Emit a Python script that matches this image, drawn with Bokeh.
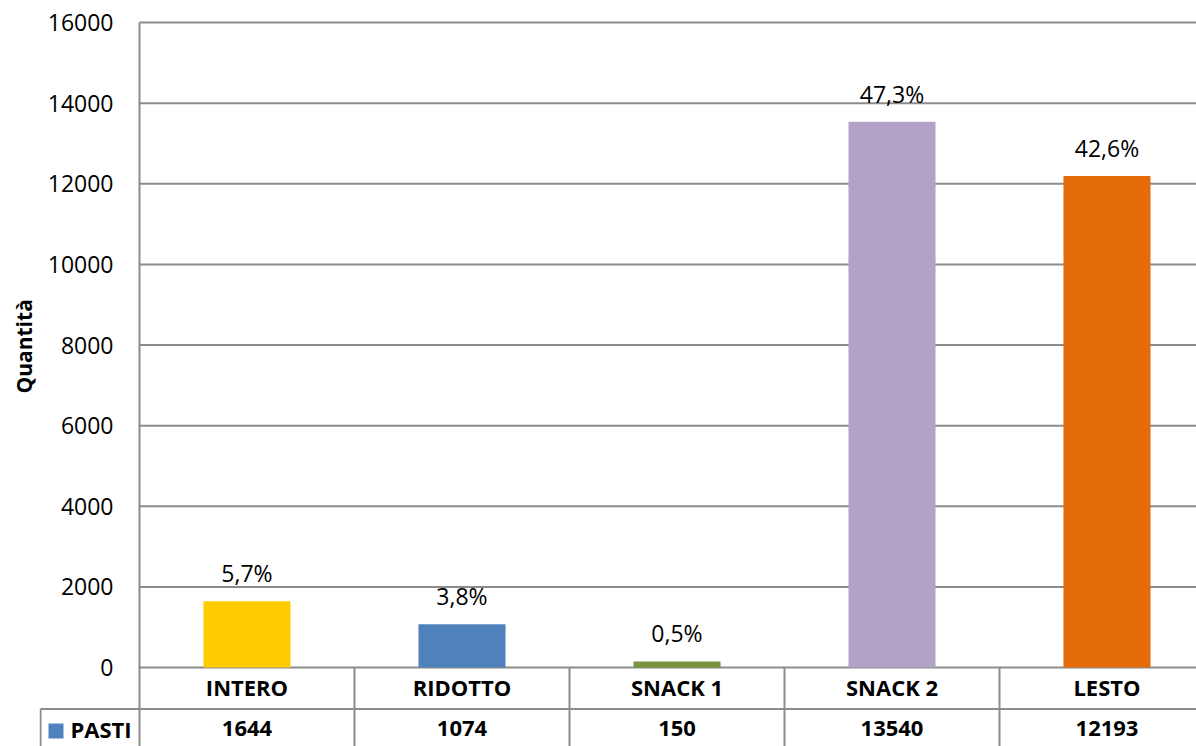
import math
from bokeh.plotting import figure
from bokeh.models import Range1d, FixedTicker, LabelSet, ColumnDataSource, Title
from bokeh.core.properties import value
from bokeh.embed import file_html
from bokeh.resources import INLINE

categories = ["INTERO", "RIDOTTO", "SNACK 1", "SNACK 2", "LESTO"]
pasti = [1644, 1074, 150, 13540, 12193]
percent_labels = ["5,7%", "3,8%", "0,5%", "47,3%", "42,6%"]
bar_colors = ["#FFCC00", "#4F81BD", "#77933C", "#B3A2C7", "#E46C0A"]
y_ticks = [0, 2000, 4000, 6000, 8000, 10000, 12000, 14000, 16000]
series_name = "PASTI"
series_color = "#4F81BD"
y_title = "Quantità"

FONT = "Open Sans"
GRID = "#8c8c8c"

# layout (pixels)
COL_W = 215          # width of one category column
PLOT_H = 645         # pixels for 0..16000
PLOT_TOP = 22        # pixel row of the top gridline
FIG_W, FIG_H = 1196, 746
LEFT = 39
FRAME_W = FIG_W - LEFT
CELL_W = 100         # width of the legend cell of the data table
TITLE_BOTTOM = 393   # pixel row where the value-axis title starts
UX = 1 / COL_W
UY = 16000 / PLOT_H

y_min, y_max = y_ticks[0], y_ticks[-1]
x_start = -CELL_W * UX
x_end = (FRAME_W - CELL_W) * UX
y_bottom = -(FIG_H - PLOT_TOP - PLOT_H) * UY
y_top = y_max + PLOT_TOP * UY

x_pos = [i + 0.5 for i in range(len(categories))]
bounds = list(range(len(categories) + 1))

p = figure(width=FIG_W, height=FIG_H, output_backend="svg", toolbar_location=None,
           x_range=Range1d(x_start, x_end), y_range=Range1d(y_bottom, y_top),
           min_border_left=LEFT, min_border_right=0, min_border_top=0, min_border_bottom=0,
           x_axis_location=None)
p.outline_line_color = None
p.grid.visible = False

ya = p.yaxis[0]
ya.fixed_location = 0
ya.bounds = (y_bottom, y_max)
ya.ticker = FixedTicker(ticks=y_ticks)
ya.axis_line_color = GRID
ya.axis_line_width = 2
ya.major_tick_out = 0
ya.major_tick_in = 0
ya.minor_tick_line_color = None
ya.major_label_standoff = 26
ya.major_label_text_font = FONT
ya.major_label_text_font_size = "23px"
ya.major_label_text_color = "black"

# title of the value axis
p.add_layout(Title(text=y_title, align="left", offset=FIG_H - TITLE_BOTTOM, text_font=FONT,
                   text_font_style="bold", text_font_size="21px", text_color="black",
                   standoff=3), "left")

line_kw = dict(line_color=GRID, line_width=2)
# horizontal gridlines starting at the value axis
p.ray(x=0, y=y_ticks, length=0, angle=0, **line_kw)
# data table: column separators
p.ray(x=bounds[1:], y=0, length=0, angle=-math.pi / 2, **line_kw)
# data table: second row line and legend cell
row_line_y = -41.5 * UY
cell_left = -(CELL_W - 1) * UX
p.ray(x=cell_left, y=row_line_y, length=0, angle=0, **line_kw)
p.ray(x=cell_left, y=row_line_y, length=0, angle=-math.pi / 2, **line_kw)

p.vbar(x=x_pos, top=pasti, width=0.405, color=bar_colors, line_color=None)

src = ColumnDataSource(dict(x=x_pos, y=pasti, t=percent_labels))
p.add_layout(LabelSet(x="x", y="y", text="t", source=src, text_align="center",
                      text_baseline="alphabetic", y_offset=19, text_font=value(FONT),
                      text_font_size="23px", text_color="black"))

txt_kw = dict(text_font=value(FONT), text_font_style="bold", text_font_size="22px",
              text_color="black", text_baseline="middle")
p.text(x=x_pos, y=[-19.5 * UY] * len(x_pos), text=categories, text_align="center", **txt_kw)
p.text(x=x_pos, y=[-61 * UY] * len(x_pos), text=[str(v) for v in pasti],
       text_align="center", **txt_kw)
p.text(x=[-69 * UX], y=[-61 * UY], text=[series_name], text_align="left", **txt_kw)
p.scatter(x=[-83.5 * UX], y=[-63.5 * UY], marker="square", size=15,
          fill_color=series_color, line_color=None)

open("out.html", "w").write(file_html(p, INLINE))
